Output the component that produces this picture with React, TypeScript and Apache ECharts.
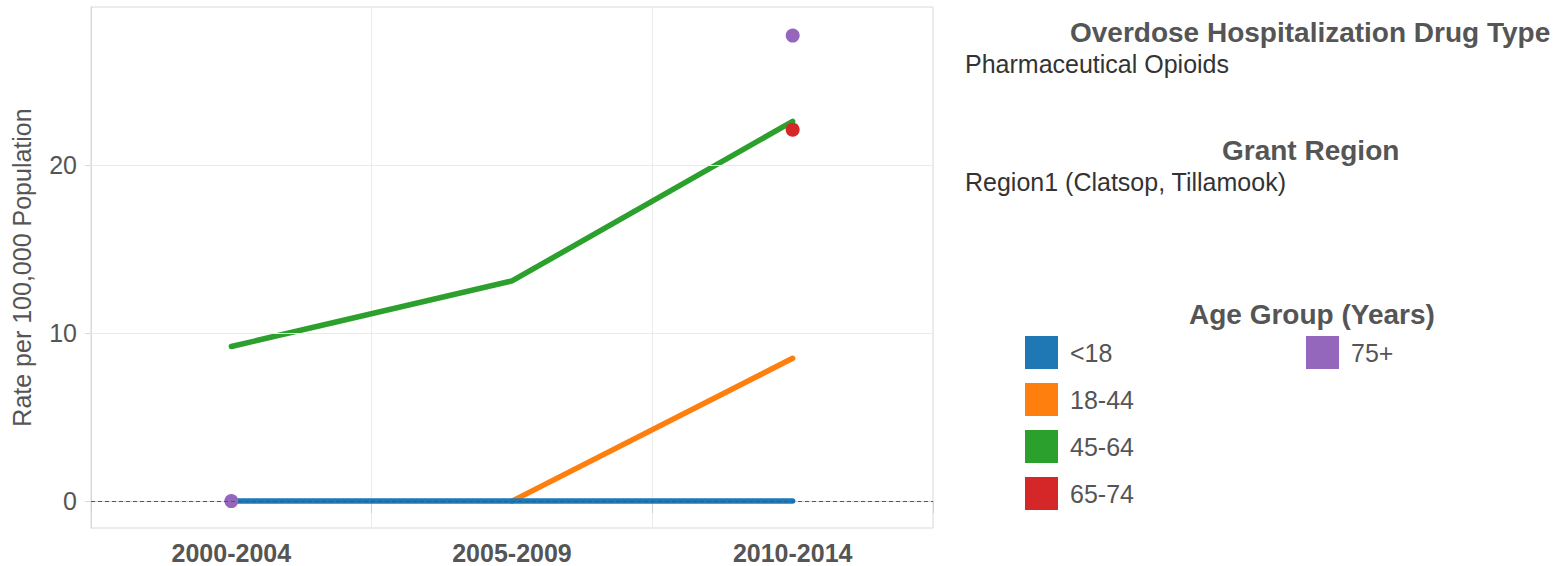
import { useEffect, useRef } from "react";
import * as echarts from "echarts";

const periods = ["2000-2004", "2005-2009", "2010-2014"];
const ageGroups = ["<18", "18-44", "45-64", "65-74", "75+"];
const groupColors = ["#1f77b4", "#ff7f0e", "#2ca02c", "#d62728", "#9467bd"];
const under18 = [0, 0, 0];
const age18to44 = [null, 0, 8.5];
const age45to64 = [9.2, 13.1, 22.6];
const age65to74 = [null, null, 22.1];
const age75plus = [0, null, 27.7];
const yTicks = [0, 10, 20];
const yMin = -1.6;
const yMax = 29.4;

const drugTypeTitle = "Overdose Hospitalization Drug Type";
const drugTypeValue = "Pharmaceutical Opioids";
const regionTitle = "Grant Region";
const regionValue = "Region1 (Clatsop, Tillamook)";
const legendTitle = "Age Group (Years)";

const FONT = "'Liberation Sans', Arial, sans-serif";

export default function App() {
  const ref = useRef<HTMLDivElement>(null);
  useEffect(() => {
    if (!ref.current) return;
    const chart = echarts.init(ref.current, undefined, { renderer: "svg" });
    const lineSeries = (name: string, data: any[], color: string) => ({
      type: "line",
      name,
      data: data.map((v) => (v === null ? "-" : v)),
      showSymbol: false,
      symbol: "none",
      connectNulls: false,
      itemStyle: { color },
      lineStyle: { color, width: 5.5, cap: "round", join: "round" },
      z: 3,
    });
    const pointSeries = (name: string, data: any[], color: string) => ({
      type: "scatter",
      name,
      data: data.map((v) => (v === null ? "-" : v)),
      symbol: "circle",
      symbolSize: 14,
      itemStyle: { color, opacity: 1 },
      z: 3,
    });
    const legendCommon = {
      orient: "vertical",
      icon: "rect",
      itemWidth: 33,
      itemHeight: 33,
      itemGap: 14,
      top: 336,
      padding: 0,
      selectedMode: false,
      textStyle: { fontFamily: FONT, fontSize: 25, color: "#555", padding: [0, 0, 0, 7] },
    };
    chart.setOption({
      animation: false,
      textStyle: { fontFamily: FONT },
      grid: {
        left: 91,
        right: 631,
        top: 7,
        bottom: 38,
        show: true,
        borderColor: "#d9d9d9",
        borderWidth: 1,
        containLabel: false,
        outerBoundsMode: "none",
      },
      xAxis: {
        type: "category",
        data: periods,
        boundaryGap: true,
        axisLine: { show: true, lineStyle: { color: "#d9d9d9" } },
        axisTick: { show: true, length: 12, lineStyle: { color: "#d0d0d0" }, interval: 0 },
        axisLabel: { fontFamily: FONT, fontSize: 25, fontWeight: "bold", color: "#555", margin: 12, interval: 0 },
        splitLine: { show: true, interval: 0, lineStyle: { color: "#ebebeb", width: 1 } },
      },
      yAxis: {
        type: "value",
        min: yMin,
        max: yMax,
        name: "Rate per 100,000 Population",
        nameLocation: "middle",
        nameRotate: 90,
        nameGap: 57,
        nameTextStyle: { fontFamily: FONT, fontSize: 25, color: "#555" },
        axisLine: { show: true, lineStyle: { color: "#d9d9d9" } },
        axisTick: { show: true, length: 6, customValues: yTicks, lineStyle: { color: "#d9d9d9" } },
        axisLabel: { fontFamily: FONT, fontSize: 25, color: "#555", margin: 14, customValues: yTicks },
        splitLine: { show: false },
      },
      legend: [
        { ...legendCommon, left: 1025, data: ageGroups.slice(0, 4) },
        { ...legendCommon, left: 1306, data: ageGroups.slice(4) },
      ],
      graphic: [
        {
          type: "text",
          left: 1310 - 240,
          top: 18,
          style: { text: drugTypeTitle, fontFamily: FONT, fontSize: 28, fontWeight: "bold", fill: "#555" },
        },
        {
          type: "text",
          left: 965,
          top: 51,
          style: { text: drugTypeValue, fontFamily: FONT, fontSize: 25, fill: "#333" },
        },
        {
          type: "text",
          left: 1310 - 88,
          top: 136,
          style: { text: regionTitle, fontFamily: FONT, fontSize: 28, fontWeight: "bold", fill: "#555" },
        },
        {
          type: "text",
          left: 965,
          top: 169,
          style: { text: regionValue, fontFamily: FONT, fontSize: 25, fill: "#333" },
        },
        {
          type: "text",
          left: 1189,
          top: 300,
          style: { text: legendTitle, fontFamily: FONT, fontSize: 28, fontWeight: "bold", fill: "#555" },
        },
      ],
      series: [
        {
          type: "line",
          name: "__grid",
          data: [],
          silent: true,
          z: 1,
          markLine: {
            silent: true,
            animation: false,
            symbol: ["none", "none"],
            label: { show: false },
            emphasis: { disabled: true },
            data: [
              ...yTicks
                .filter((v) => v !== 0)
                .map((v) => ({ yAxis: v, lineStyle: { color: "#ebebeb", type: "solid", width: 1 } })),
              { yAxis: 0, lineStyle: { color: "#555", type: [4, 3], width: 1 } },
            ],
          },
        },
        pointSeries(ageGroups[4], age75plus, groupColors[4]),
        pointSeries(ageGroups[3], age65to74, groupColors[3]),
        lineSeries(ageGroups[2], age45to64, groupColors[2]),
        lineSeries(ageGroups[1], age18to44, groupColors[1]),
        lineSeries(ageGroups[0], under18, groupColors[0]),
      ],
    });
    return () => chart.dispose();
  }, []);
  return (
    <div
      ref={ref}
      style={{ position: "fixed", left: 0, top: 0, width: 1564, height: 566, background: "#fff" }}
    />
  );
}
